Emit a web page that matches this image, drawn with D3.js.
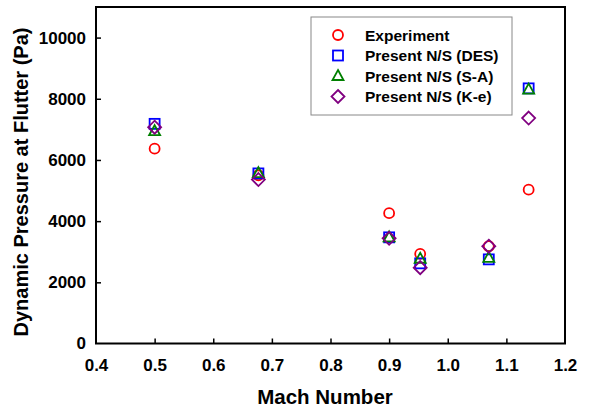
<!DOCTYPE html>
<html>
<head>
<meta charset="utf-8">
<script src="https://cdn.jsdelivr.net/npm/d3@7"></script>
<style>
body { margin: 0; background: #fff; }
text { font-family: "Liberation Sans", Arial, sans-serif; font-weight: bold; }
</style>
</head>
<body>
<svg id="chart" width="592" height="410"></svg>
<script>
// data
var mach = [0.5, 0.677, 0.9, 0.953, 1.07, 1.138]
var experiment = [6370, 5500, 4260, 2930, 3180, 5030]
var des = [7180, 5560, 3470, 2620, 2750, 8340]
var sa = [6940, 5570, 3470, 2770, 2800, 8300]
var ke = [7070, 5360, 3440, 2480, 3180, 7370]
var xTicks = [0.4, 0.5, 0.6, 0.7, 0.8, 0.9, 1.0, 1.1, 1.2]
var yTicks = [0, 2000, 4000, 6000, 8000, 10000]
var seriesNames = ['Experiment', 'Present N/S (DES)', 'Present N/S (S-A)', 'Present N/S (K-e)']

var svg = d3.select('#chart')
var margin = { left: 96, top: 7, right: 565, bottom: 343.5 }

var x = d3.scaleLinear().domain([0.4, 1.2]).range([margin.left, margin.right])
var y = d3.scaleLinear().domain([0, 11000]).range([margin.bottom, margin.top])

var series = [
    { name: seriesNames[0], values: experiment, color: '#ff0000', shape: 'circle' },
    { name: seriesNames[1], values: des, color: '#0000ff', shape: 'square' },
    { name: seriesNames[2], values: sa, color: '#008000', shape: 'triangle' },
    { name: seriesNames[3], values: ke, color: '#800080', shape: 'diamond' }
]

// axes
var xAxis = d3.axisBottom(x).tickValues(xTicks).tickSizeInner(-5).tickSizeOuter(0)
    .tickPadding(15).tickFormat(d3.format('.1f'))
var gx = svg.append('g')
    .attr('transform', 'translate(0,' + margin.bottom + ')')
    .call(xAxis)
gx.selectAll('text').attr('font-size', 17).attr('fill', '#000')
gx.selectAll('.tick line').filter(d => d == 0.4 || d == 1.2).remove()

var yAxis = d3.axisLeft(y).tickValues(yTicks).tickSizeInner(-5).tickSizeOuter(0).tickPadding(10)
    .tickFormat(d3.format('d'))
var gy = svg.append('g')
    .attr('transform', 'translate(' + margin.left + ',0)')
    .call(yAxis)
gy.selectAll('text').attr('font-size', 17).attr('fill', '#000')
gy.selectAll('.tick line').filter(d => d == 0).remove()
svg.selectAll('.domain').remove()
svg.selectAll('.tick line').attr('stroke', '#000').attr('stroke-width', 1.5)

// frame
svg.append('rect')
    .attr('x', margin.left).attr('y', margin.top)
    .attr('width', margin.right - margin.left)
    .attr('height', margin.bottom - margin.top)
    .attr('fill', 'none').attr('stroke', '#000').attr('stroke-width', 2)

// titles
svg.append('text').text('Mach Number')
    .attr('x', 325).attr('y', 404)
    .attr('text-anchor', 'middle').attr('font-size', 20.5)
svg.append('text').text('Dynamic Pressure at Flutter (Pa)')
    .attr('transform', 'translate(28,182) rotate(-90)')
    .attr('text-anchor', 'middle').attr('font-size', 20)

function marker(g, shape, color) {
    if (shape == 'circle') {
        g.append('circle').attr('r', 5)
    } else if (shape == 'square') {
        g.append('rect').attr('x', -5).attr('y', -5).attr('width', 10).attr('height', 10)
    } else if (shape == 'triangle') {
        g.append('path').attr('d', 'M0,-6L5.5,4L-5.5,4Z')
    } else {
        g.append('path').attr('d', 'M0,-6.5L6.5,0L0,6.5L-6.5,0Z')
    }
    g.selectAll('*').attr('fill', 'none').attr('stroke', color).attr('stroke-width', 1.8)
}

// points
series.forEach(function (s) {
    svg.append('g')
        .selectAll('g')
        .data(s.values)
        .enter()
        .append('g')
        .attr('transform', (d, i) => 'translate(' + x(mach[i]) + ',' + y(d) + ')')
        .each(function () { marker(d3.select(this), s.shape, s.color) })
})

// legend
var lg = svg.append('g')
lg.append('rect')
    .attr('x', 311).attr('y', 17).attr('width', 201).attr('height', 98)
    .attr('fill', '#fff').attr('stroke', '#888').attr('stroke-width', 1)
series.forEach(function (s, i) {
    var row = lg.append('g').attr('transform', 'translate(338,' + (35 + i * 20.5) + ')')
    marker(row.append('g'), s.shape, s.color)
    row.append('text').text(s.name)
        .attr('x', 27).attr('y', 5.5).attr('font-size', 15.5)
})
</script>
</body>
</html>
